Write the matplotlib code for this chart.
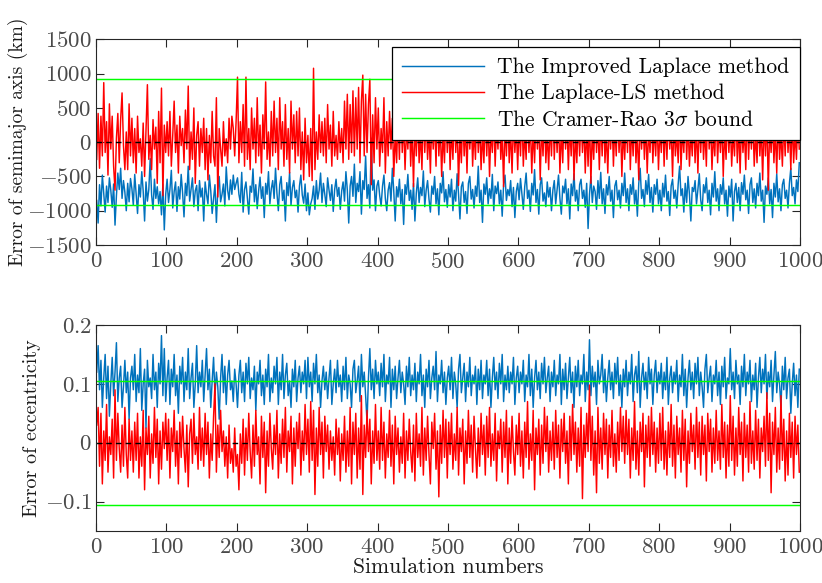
import numpy as np
import matplotlib
matplotlib.use("Agg")
import matplotlib.pyplot as plt
from matplotlib.ticker import FixedLocator, FuncFormatter

# ---------------- data (every second simulation) ----------------
# Error of semimajor axis (km), Improved Laplace method
sma_improved = [
    -850,-1180,-620,-930,-480,-760,-1020,-640,-880,-520,-700,-950,-610,-1210,-780,-450,-690,-380,-820,-560,-730,-1000,-600,-870,-530,
    -680,-920,-470,-750,-1040,-620,-800,-430,-710,-1150,-580,-860,-690,-240,-770,-980,-540,-820,-650,-900,-720,-1060,-610,-1280,-760,
    -540,-880,-690,-410,-960,-720,-580,-1010,-650,-830,-470,-740,-1090,-600,-780,-350,-860,-690,-520,-940,-710,-630,-1000,-560,-800,
    -670,-1150,-580,-760,-900,-480,-710,-1040,-820,-620,-1170,-690,-500,-870,-760,-610,-930,-360,-700,-840,-550,-760,-480,-690,-600,
    -520,-760,-880,-440,-1020,-690,-580,-810,-1050,-640,-730,-390,-870,-620,-970,-710,-510,-820,-650,-1100,-600,-760,-430,-900,-680,
    -560,-820,-380,-740,-1000,-620,-500,-850,-700,-1150,-590,-780,-440,-920,-660,-560,-810,-700,-1020,-640,-480,-770,-890,-610,-1000,
    -740,-1060,-900,-820,-640,-980,-560,-830,-700,-450,-880,-600,-760,-940,-520,-700,-850,-620,-1010,-690,-540,-790,-660,-980,-710,
    -580,-860,-430,-700,-1180,-640,-500,-790,-320,-880,-600,-720,-430,-1050,-560,-690,-200,-820,-620,-960,60,-700,-550,-1000,-640,
    -560,-780,-930,-640,-480,-820,-1000,-700,-590,-860,-380,-720,-1150,-650,-800,-540,-900,-690,-1200,-620,-760,-470,-850,-700,-980,
    -600,-1150,-740,-520,-880,-660,-780,-420,-940,-700,-560,-830,-1020,-640,-760,-500,-900,-680,-1060,-600,-740,-430,-870,-690,-950,
    -620,-800,-540,-1000,-700,-860,-460,-760,-1120,-650,-580,-880,-720,-1040,-600,-500,-830,-690,-960,-640,-790,-350,-880,-700,-1170,
    -610,-760,-520,-900,-680,-820,-470,-1000,-640,-750,-580,-900,-700,-1080,-620,-480,-850,-690,-780,-560,-940,-660,-1100,-720,-600,
    -840,-530,-760,-980,-650,-450,-820,-700,-1010,-600,-770,-400,-880,-690,-1050,-620,-520,-860,-740,-940,-580,-800,-660,-1000,-700,
    -560,-900,-690,-480,-820,-1050,-640,-740,-540,-900,-680,-1120,-610,-780,-460,-860,-700,-1000,-620,-540,-820,-700,-950,-600,-1260,
    -760,-500,-880,-640,-720,-980,-560,-820,-440,-900,-680,-1040,-620,-770,-500,-860,-700,-1100,-640,-560,-840,-700,-960,-600,-780,
    -450,-880,-680,-1000,-620,-760,-520,-900,-700,-1080,-600,-380,-820,-690,-940,-560,-760,-470,-880,-660,-1020,-620,-760,-540,-900,
    -700,-1000,-600,-800,-480,-860,-720,-1070,-640,-540,-820,-700,-960,-610,-350,-780,-680,-1020,-600,-880,-500,-760,-1150,-660,-720,
    -560,-900,-690,-460,-840,-1000,-620,-740,-520,-880,-700,-1060,-600,-800,-430,-860,-680,-1000,-620,-760,-520,-900,-700,-1080,-640,
    -800,-540,-1150,-720,-600,-880,-660,-1000,-590,-760,-480,-840,-700,-1040,-620,-520,-880,-680,-960,-600,-780,-450,-860,-700,-1170,
    -640,-760,-520,-900,-690,-1100,-600,-800,-460,-870,-680,-1000,-620,-540,-820,-700,-960,-600,-380,-780,-660,-900,-550,-720,-300,
]

# Error of semimajor axis (km), Laplace-LS method
sma_ls = [
    -250,420,-380,380,-200,870,-150,300,-480,560,-100,380,-350,-700,60,420,-300,330,720,-50,-400,150,-400,560,-200,
    350,-300,200,-450,380,-150,50,-350,280,-500,150,840,-250,100,-400,330,-100,220,-600,450,-300,790,-780,250,-150,
    300,-200,450,-350,100,600,-150,250,-450,380,-50,200,-300,470,-100,820,-400,150,-250,500,-600,100,300,-350,200,
    -150,350,-400,200,-550,100,-300,450,-200,-350,650,-800,200,-100,-350,300,-200,50,-300,350,-100,380,200,-200,300,
    950,-300,300,-150,550,-350,950,-250,200,-400,500,-100,350,-300,650,-200,250,-450,400,-100,880,-250,150,-350,450,
    -200,600,-150,350,-400,650,-100,300,-350,550,-250,200,-450,600,-100,400,-300,450,-200,500,-400,150,-550,350,-300,
    100,-500,200,-560,1080,-400,150,-250,400,-150,300,-200,350,-300,550,-100,250,-350,450,-200,100,-250,300,-150,200,
    -300,600,-100,700,-250,550,-150,750,-200,650,-100,800,-300,600,980,-200,700,-150,550,920,-620,400,-300,650,-100,
    500,-350,200,-150,650,-450,300,-200,450,-100,350,-500,150,-300,400,-250,600,-150,300,-400,200,-100,500,-350,250,
    -650,300,-200,450,-300,150,-400,500,-150,350,-250,200,-450,400,-100,300,-350,550,-200,250,-500,150,-300,450,-150,
    350,-400,200,-250,500,-150,300,-630,150,-300,400,-200,250,-450,350,-100,450,-350,200,-250,500,-150,300,-400,150,
    -300,450,-200,350,-500,200,-150,400,-350,250,-100,500,-250,150,-650,300,-200,450,-300,200,-450,350,-150,250,-400,
    300,-200,450,-350,150,-250,500,-150,300,-450,200,-300,400,-100,350,-550,250,-200,450,-300,150,-400,300,-200,500,
    -250,350,-150,400,-450,200,-300,500,-100,300,-400,250,-200,450,-550,150,-300,350,-200,400,-150,300,-450,250,-350,
    400,-600,200,-250,450,-150,300,-400,350,-200,500,-300,150,-450,300,-100,400,-350,250,-200,450,-150,300,-500,200,
    -250,350,-150,500,-400,250,-200,450,-300,150,-550,350,-100,400,-250,300,-450,200,-150,450,-300,250,-200,350,-400,
    200,-150,450,-350,300,-250,400,-100,250,-500,350,-200,150,-300,450,-400,200,-150,500,-250,300,-350,150,-200,400,
    -300,250,-450,350,-150,400,-250,200,-350,500,-100,300,-400,150,-200,450,-300,250,-150,350,-500,200,-250,400,-150,
    300,-350,150,-200,450,-300,250,-450,350,-150,200,-400,500,-250,300,-100,400,-350,150,-300,450,-200,250,-550,350,
    -200,400,-700,250,-150,350,-300,200,-450,400,-250,150,-350,300,-200,450,-150,250,-400,350,-300,150,-250,400,-100,
]

# Error of eccentricity (units of 0.001), Improved Laplace method
ecc_improved_milli = [
    120,165,90,140,60,110,150,75,130,45,100,145,80,120,170,70,110,130,60,95,140,85,120,40,110,
    130,90,150,70,115,85,160,55,100,125,25,140,95,110,75,150,90,120,60,135,100,182,80,160,70,
    110,140,65,125,95,150,80,115,50,130,100,145,70,120,90,160,75,110,135,60,100,165,85,120,95,
    140,70,115,160,90,125,60,105,145,80,120,95,40,110,150,85,130,65,115,140,90,105,70,125,100,
    60,115,140,85,120,70,135,100,145,75,110,90,130,55,120,100,140,80,115,65,125,95,150,70,110,
    85,130,100,145,65,120,90,150,75,115,135,80,105,60,125,95,140,70,110,130,85,120,100,140,75,
    145,95,120,70,135,100,150,85,115,60,105,130,90,120,75,110,140,65,100,125,85,140,95,115,70,
    130,90,145,75,115,100,60,125,140,85,105,130,70,150,95,120,80,35,110,160,90,125,75,140,100,
    120,80,135,95,150,70,115,100,145,60,125,90,130,75,110,140,85,120,100,65,130,95,145,80,115,
    90,135,70,120,100,150,80,115,60,125,95,140,75,110,130,90,155,70,115,100,140,85,120,65,110,
    130,90,145,75,120,100,60,125,150,85,110,135,70,120,95,145,80,115,100,130,65,125,90,140,75,
    115,100,140,80,125,60,110,145,90,120,75,135,100,150,70,115,90,130,85,120,100,145,65,110,130,
    85,120,100,140,70,115,95,150,80,125,60,110,140,90,120,75,135,100,145,85,110,130,70,120,95,
    140,80,115,100,150,65,125,90,135,75,110,145,85,120,60,130,95,140,80,115,100,150,70,120,90,
    175,80,130,95,120,65,140,100,115,150,85,125,70,110,140,90,120,75,135,100,145,80,115,60,125,
    95,140,80,120,100,150,70,115,130,85,155,60,110,135,90,120,75,145,100,125,65,115,140,85,120,
    100,135,75,120,90,145,65,110,130,85,120,100,140,70,115,95,150,80,125,60,110,140,90,120,75,
    135,100,145,80,120,95,60,125,150,85,110,130,70,115,100,140,80,120,65,130,95,145,75,110,100,
    160,90,120,75,140,100,115,65,130,95,150,80,120,100,140,70,115,90,135,60,110,145,85,125,100,
    150,75,120,95,140,70,115,155,85,120,100,60,130,90,145,75,110,125,50,100,135,80,115,60,125,
]

# Error of eccentricity (units of 0.001), Laplace-LS method
ecc_ls_milli = [
    30,60,-40,50,-70,20,-30,65,-50,10,-20,40,-60,90,-30,50,-10,-50,30,-40,60,-20,-60,40,-30,
    20,-50,35,-30,50,-60,10,-40,55,-80,25,-20,45,-60,15,-35,60,-25,40,-70,20,-45,35,-10,50,
    -30,40,-60,25,-15,55,-40,20,-70,35,-25,45,-10,-50,30,-75,15,40,-35,50,-20,10,-45,60,-30,
    25,-40,50,-20,35,-60,15,-30,45,100,-50,30,-25,55,-15,20,-40,10,-60,30,-35,-10,-50,25,-40,
    -20,-80,15,-35,40,-55,25,-30,50,-15,-60,30,-40,55,-20,10,-70,45,-25,35,-85,20,-40,50,-10,
    -45,30,-20,55,-60,15,-35,40,-25,60,-50,20,-15,45,-70,25,-40,35,-10,50,-55,20,-30,65,-20,
    40,-50,70,-30,55,-88,25,-40,60,-20,35,-60,45,-15,30,-45,20,-30,10,-55,40,-20,25,-65,15,
    -30,45,-50,20,-40,60,-70,35,-20,50,-60,25,-45,80,-88,30,-25,55,-15,40,-70,20,-35,65,-30,
    20,-45,60,-30,35,-60,15,-25,55,-40,30,-70,45,-20,25,-50,10,-35,50,-60,20,-30,40,-15,-50,
    30,-65,50,-25,15,-40,60,-55,25,-30,45,-20,-70,35,-10,50,-45,20,-92,30,-35,55,-25,40,-60,
    35,-20,50,-45,15,-30,60,-55,25,-15,40,-70,20,-35,55,-25,30,-50,45,-10,-60,25,-40,50,-20,
    30,-55,45,-25,60,-40,15,-30,50,-65,20,-10,40,-50,35,-25,55,-70,25,-35,45,-15,-55,30,-20,
    50,-40,20,-60,35,-25,70,-45,15,-30,55,-80,25,-20,40,-55,30,-35,60,-15,45,-50,20,-30,35,
    -45,55,-25,30,-60,40,-15,50,-35,20,-70,45,-30,65,-20,35,-50,25,-40,60,-95,30,-25,50,-15,
    98,-30,45,-55,20,-85,60,-35,25,-45,50,-20,40,-60,30,-25,55,-40,15,-50,35,-30,60,-15,45,
    -35,55,-20,40,-60,25,-30,70,-45,20,-55,35,-15,50,-75,30,-25,45,-40,60,-20,35,-50,25,-35,
    50,-30,60,-45,20,-55,35,-25,65,-40,30,-60,45,-20,25,-50,55,-30,40,-75,20,-35,50,-15,30,
    -45,60,-25,35,-55,45,-20,30,-65,50,-15,40,-50,25,-35,55,-30,20,-45,65,-25,35,-60,30,-40,
    80,-30,45,-55,25,-40,60,-20,35,-65,50,-25,30,-50,70,-35,20,-45,55,-30,40,-60,25,-15,45,
    -40,85,-30,50,-85,35,-20,60,-50,25,-45,80,-30,40,-65,20,-55,50,-25,35,-60,45,-20,30,-50,
]

sma_bound = 920          # Cramer-Rao 3-sigma bound, semimajor axis (km)
ecc_bound = 0.105        # Cramer-Rao 3-sigma bound, eccentricity

legend_labels = ["The Improved Laplace method", "The Laplace-LS method",
                 r"The Cramer-Rao 3$\sigma$ bound"]
sma_yticks = [-1500, -1000, -500, 0, 500, 1000, 1500]
ecc_yticks = [-0.1, 0, 0.1, 0.2]
xticks = list(range(0, 1001, 100))

# ---------------- style ----------------
plt.rcParams['font.family'] = ['cmr10', 'DejaVu Serif']
plt.rcParams['mathtext.fontset'] = 'cm'
plt.rcParams['axes.unicode_minus'] = False

BLUE = '#0072BD'
RED = '#FF0000'
GREEN = '#00FF00'
AX_COL = '#262626'
TICK_FS = 16.5
LAB_FS = 15.5
LEG_FS = 15.5
LW = 1.05

fig = plt.figure(figsize=(8.22, 5.83), dpi=100)
ax1 = fig.add_axes([0.1168, 0.5798, 0.8564, 0.3525])
ax2 = fig.add_axes([0.1168, 0.0892, 0.8564, 0.3533])


def xs(arr):
    return np.arange(len(arr)) * 2 + 1


def mfmt(v, pos):
    if v == 0:
        return r'$0$'
    return '$' + f'{v:g}' + '$'


def style(ax, yticks, ylim):
    ax.set_xlim(0, 1000)
    ax.set_ylim(*ylim)
    ax.xaxis.set_major_locator(FixedLocator(xticks))
    ax.yaxis.set_major_locator(FixedLocator(yticks))
    ax.xaxis.set_major_formatter(FuncFormatter(mfmt))
    ax.yaxis.set_major_formatter(FuncFormatter(mfmt))
    ax.tick_params(direction='in', top=True, right=True, length=6, width=0.8,
                   colors=AX_COL, labelsize=TICK_FS, labelcolor='#4a4a4a')
    ax.tick_params(axis='x', pad=5)
    ax.tick_params(axis='y', pad=3)
    for sp in ax.spines.values():
        sp.set_color(AX_COL)
        sp.set_linewidth(0.8)


# top panel
l1, = ax1.plot(xs(sma_improved), sma_improved, color=BLUE, lw=LW)
l2, = ax1.plot(xs(sma_ls), sma_ls, color=RED, lw=LW)
l3, = ax1.plot([0, 1000], [sma_bound, sma_bound], color=GREEN, lw=LW)
ax1.plot([0, 1000], [-sma_bound, -sma_bound], color=GREEN, lw=LW)
ax1.plot([0, 1000], [0, 0], color='k', lw=1.0, ls=(0, (4, 3)))
style(ax1, sma_yticks, (-1500, 1500))
ax1.set_ylabel('Error of semimajor axis (km)', fontsize=14, color='#1a1a1a')
ax1.yaxis.set_label_coords(-0.097, 0.5)
leg = ax1.legend([l1, l2, l3], legend_labels, loc='upper right',
                 bbox_to_anchor=(1.0, 0.9635), borderaxespad=0.0,
                 fontsize=LEG_FS, fancybox=False, framealpha=1.0,
                 edgecolor='k', handlelength=3.8, handletextpad=0.6,
                 labelspacing=0.3, borderpad=0.5)
leg.get_frame().set_linewidth(0.9)
leg.set_zorder(5)

# bottom panel
ax2.plot(xs(ecc_improved_milli), np.array(ecc_improved_milli) / 1000.0, color=BLUE, lw=LW)
ax2.plot(xs(ecc_ls_milli), np.array(ecc_ls_milli) / 1000.0, color=RED, lw=LW)
ax2.plot([0, 1000], [ecc_bound, ecc_bound], color=GREEN, lw=LW)
ax2.plot([0, 1000], [-ecc_bound, -ecc_bound], color=GREEN, lw=LW)
ax2.plot([0, 1000], [0, 0], color='k', lw=1.0, ls=(0, (4, 3)))
style(ax2, ecc_yticks, (-0.15, 0.2))
ax2.set_ylabel('Error of eccentricity', fontsize=14.5, color='#1a1a1a')
ax2.yaxis.set_label_coords(-0.078, 0.5)
ax2.set_xlabel('Simulation numbers', fontsize=LAB_FS, color='#1a1a1a', labelpad=0)

fig.savefig('out.png', dpi=100)
